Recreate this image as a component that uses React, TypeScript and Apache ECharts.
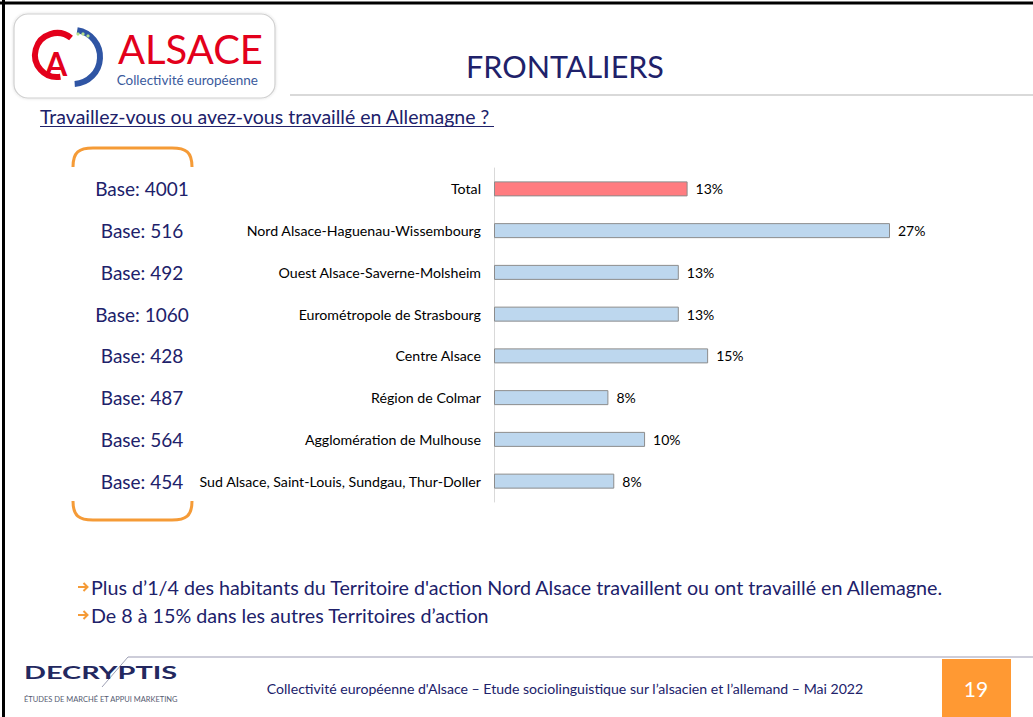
import React, { useEffect, useRef } from "react";
import * as echarts from "echarts";

const categories = [
  "Total",
  "Nord Alsace-Haguenau-Wissembourg",
  "Ouest Alsace-Saverne-Molsheim",
  "Eurométropole de Strasbourg",
  "Centre Alsace",
  "Région de Colmar",
  "Agglomération de Mulhouse",
  "Sud Alsace, Saint-Louis, Sundgau, Thur-Doller",
];
const values = [13.2, 27, 12.6, 12.6, 14.6, 7.8, 10.3, 8.2];
const bases = [4001, 516, 492, 1060, 428, 487, 564, 454];
const bullets = [
  "Plus d’1/4 des habitants du Territoire d'action Nord Alsace travaillent ou ont travaillé en Allemagne.",
  "De 8 à 15% dans les autres Territoires d’action",
];

const NAVY = "#20216a";
const ORANGE = "#F59B37";
const FONT = "Lato, 'Noto Sans', sans-serif";

echarts.graphic.registerShape(
  "bracketTop",
  echarts.graphic.extendPath("M0 19 C0 4 6 0 20 0 L99 0 C113 0 119 4 119 19", {})
);
echarts.graphic.registerShape(
  "bracketBottom",
  echarts.graphic.extendPath("M0 0 C0 15 6 19 20 19 L99 19 C113 19 119 15 119 0", {})
);

export default function App() {
  const ref = useRef<HTMLDivElement>(null);
  useEffect(() => {
    document.body.style.margin = "0";
    const chart = echarts.init(ref.current!, null, { renderer: "svg" });
    const option: any = {
      animation: false,
      backgroundColor: "#ffffff",
      textStyle: { fontFamily: FONT },
      grid: { left: 494, right: 99, top: 168, bottom: 215, containLabel: false },
      xAxis: { type: "value", min: 0, max: 30, show: false },
      yAxis: [
        {
          type: "category",
          inverse: true,
          data: categories,
          axisLine: { show: true, lineStyle: { color: "#d9d9d9", width: 1 } },
          axisTick: { show: false },
          axisLabel: { color: "#000", fontSize: 14.2, margin: 13, fontFamily: FONT },
        },
        {
          type: "category",
          inverse: true,
          position: "left",
          data: bases.map((b) => "Base: " + b),
          axisLine: { show: false },
          axisTick: { show: false },
          axisLabel: { color: NAVY, fontSize: 19, margin: 352, align: "center", fontFamily: FONT },
        },
      ],
      series: [
        {
          type: "bar",
          yAxisIndex: 0,
          barWidth: 15,
          data: values.map((v, i) => ({
            value: v,
            itemStyle: { color: i === 0 ? "#FF7C80" : "#BDD7EE" },
          })),
          itemStyle: { borderColor: "#8c8c8c", borderWidth: 1 },
          label: {
            show: true,
            position: "right",
            distance: 8,
            color: "#000",
            fontSize: 14,
            fontFamily: FONT,
            formatter: (p: any) => Math.round(p.value) + "%",
          },
        },
      ],
      graphic: [
        // slide frame
        { type: "line", shape: { x1: 0, y1: 3, x2: 1033, y2: 3 }, style: { stroke: "#000", lineWidth: 3 } },
        { type: "line", shape: { x1: 3.5, y1: 0, x2: 3.5, y2: 717 }, style: { stroke: "#000", lineWidth: 3 } },
        // header logo box
        {
          type: "rect",
          shape: { x: 14, y: 14, width: 261, height: 84, r: 14 },
          style: { fill: "#fff", stroke: "#d0d0d0", lineWidth: 1.2, shadowColor: "rgba(0,0,0,0.15)", shadowBlur: 3 },
        },
        {
          type: "arc",
          shape: { cx: 57, cy: 55, r: 22, startAngle: Math.PI * 0.45, endAngle: Math.PI * 1.72 },
          style: { stroke: "#e3001b", lineWidth: 6, fill: "none" },
        },
        {
          type: "text",
          x: 56,
          y: 63,
          style: { text: "A", fill: "#e3001b", font: "bold 32px " + FONT, textAlign: "center", textVerticalAlign: "middle" },
        },
        {
          type: "arc",
          shape: { cx: 73, cy: 57, r: 27, startAngle: -Math.PI * 0.45, endAngle: Math.PI * 0.48 },
          style: { stroke: "#2f55a4", lineWidth: 6, fill: "none" },
        },
        { type: "circle", shape: { cx: 78, cy: 34, r: 1.6 }, style: { fill: "#b5e08a" } },
        { type: "circle", shape: { cx: 83, cy: 34, r: 1.6 }, style: { fill: "#b5e08a" } },
        { type: "circle", shape: { cx: 88, cy: 36, r: 1.6 }, style: { fill: "#b5e08a" } },
        {
          type: "text",
          x: 118,
          y: 49,
          style: { text: "ALSACE", fill: "#e3001b", font: "40px " + FONT, textAlign: "left", textVerticalAlign: "middle" },
        },
        {
          type: "text",
          x: 258,
          y: 80,
          style: { text: "Collectivité européenne", fill: "#3a5a9c", font: "13.5px " + FONT, textAlign: "right", textVerticalAlign: "middle" },
        },
        // title
        {
          type: "text",
          x: 565,
          y: 66,
          style: { text: "FRONTALIERS", fill: NAVY, font: "30.5px " + FONT, textAlign: "center", textVerticalAlign: "middle" },
        },
        { type: "line", shape: { x1: 290, y1: 95, x2: 1033, y2: 95 }, style: { stroke: "#b4b4b4", lineWidth: 1.2 } },
        // question
        {
          type: "text",
          x: 40,
          y: 116,
          style: { text: "Travaillez-vous ou avez-vous travaillé en Allemagne ?", fill: NAVY, font: "19.5px " + FONT, textAlign: "left", textVerticalAlign: "middle" },
        },
        { type: "line", shape: { x1: 40, y1: 126.5, x2: 494, y2: 126.5 }, style: { stroke: NAVY, lineWidth: 1 } },
        // brackets
        { type: "bracketTop", x: 73, y: 148, style: { stroke: ORANGE, lineWidth: 3, fill: "none" } },
        { type: "bracketBottom", x: 73, y: 501, style: { stroke: ORANGE, lineWidth: 3, fill: "none" } },
        // bullets
        ...bullets.flatMap((b, i) => {
          const y = 587 + i * 28;
          return [
            { type: "line", shape: { x1: 78, y1: y, x2: 87, y2: y }, style: { stroke: ORANGE, lineWidth: 2 } },
            {
              type: "polyline",
              shape: { points: [[83.5, y - 4], [87.5, y], [83.5, y + 4]] },
              style: { stroke: ORANGE, lineWidth: 2, fill: "none" },
            },
            {
              type: "text",
              x: 91,
              y,
              style: { text: b, fill: NAVY, font: "19.7px " + FONT, textAlign: "left", textVerticalAlign: "middle" },
            },
          ];
        }),
        // footer
        { type: "line", shape: { x1: 128, y1: 657, x2: 1033, y2: 657 }, style: { stroke: "#bcbccc", lineWidth: 1.5 } },
        { type: "line", shape: { x1: 128, y1: 657, x2: 102, y2: 687 }, style: { stroke: "#9ea0b4", lineWidth: 1 } },
        {
          type: "text",
          x: 24,
          y: 673,
          scaleX: 1.7,
          style: { text: "DECRYPTIS", fill: "#23285f", font: "bold 17px " + FONT, textAlign: "left", textVerticalAlign: "middle" },
        },
        {
          type: "text",
          x: 24,
          y: 699,
          style: { text: "ÉTUDES DE MARCHÉ ET APPUI MARKETING", fill: "#555a70", font: "7.5px " + FONT, textAlign: "left", textVerticalAlign: "middle" },
        },
        {
          type: "text",
          x: 565,
          y: 688,
          style: {
            text: "Collectivité européenne d'Alsace – Etude sociolinguistique sur l’alsacien et l’allemand – Mai 2022",
            fill: NAVY,
            font: "14.1px " + FONT,
            textAlign: "center",
            textVerticalAlign: "middle",
          },
        },
        { type: "rect", shape: { x: 942, y: 659, width: 69, height: 58 }, style: { fill: "#FF9933" } },
        {
          type: "text",
          x: 976,
          y: 688,
          style: { text: "19", fill: "#fff", font: "21px " + FONT, textAlign: "center", textVerticalAlign: "middle" },
        },
      ],
    };
    chart.setOption(option);
    return () => chart.dispose();
  }, []);
  return <div ref={ref} style={{ position: "fixed", left: 0, top: 0, width: 1033, height: 717 }} />;
}
